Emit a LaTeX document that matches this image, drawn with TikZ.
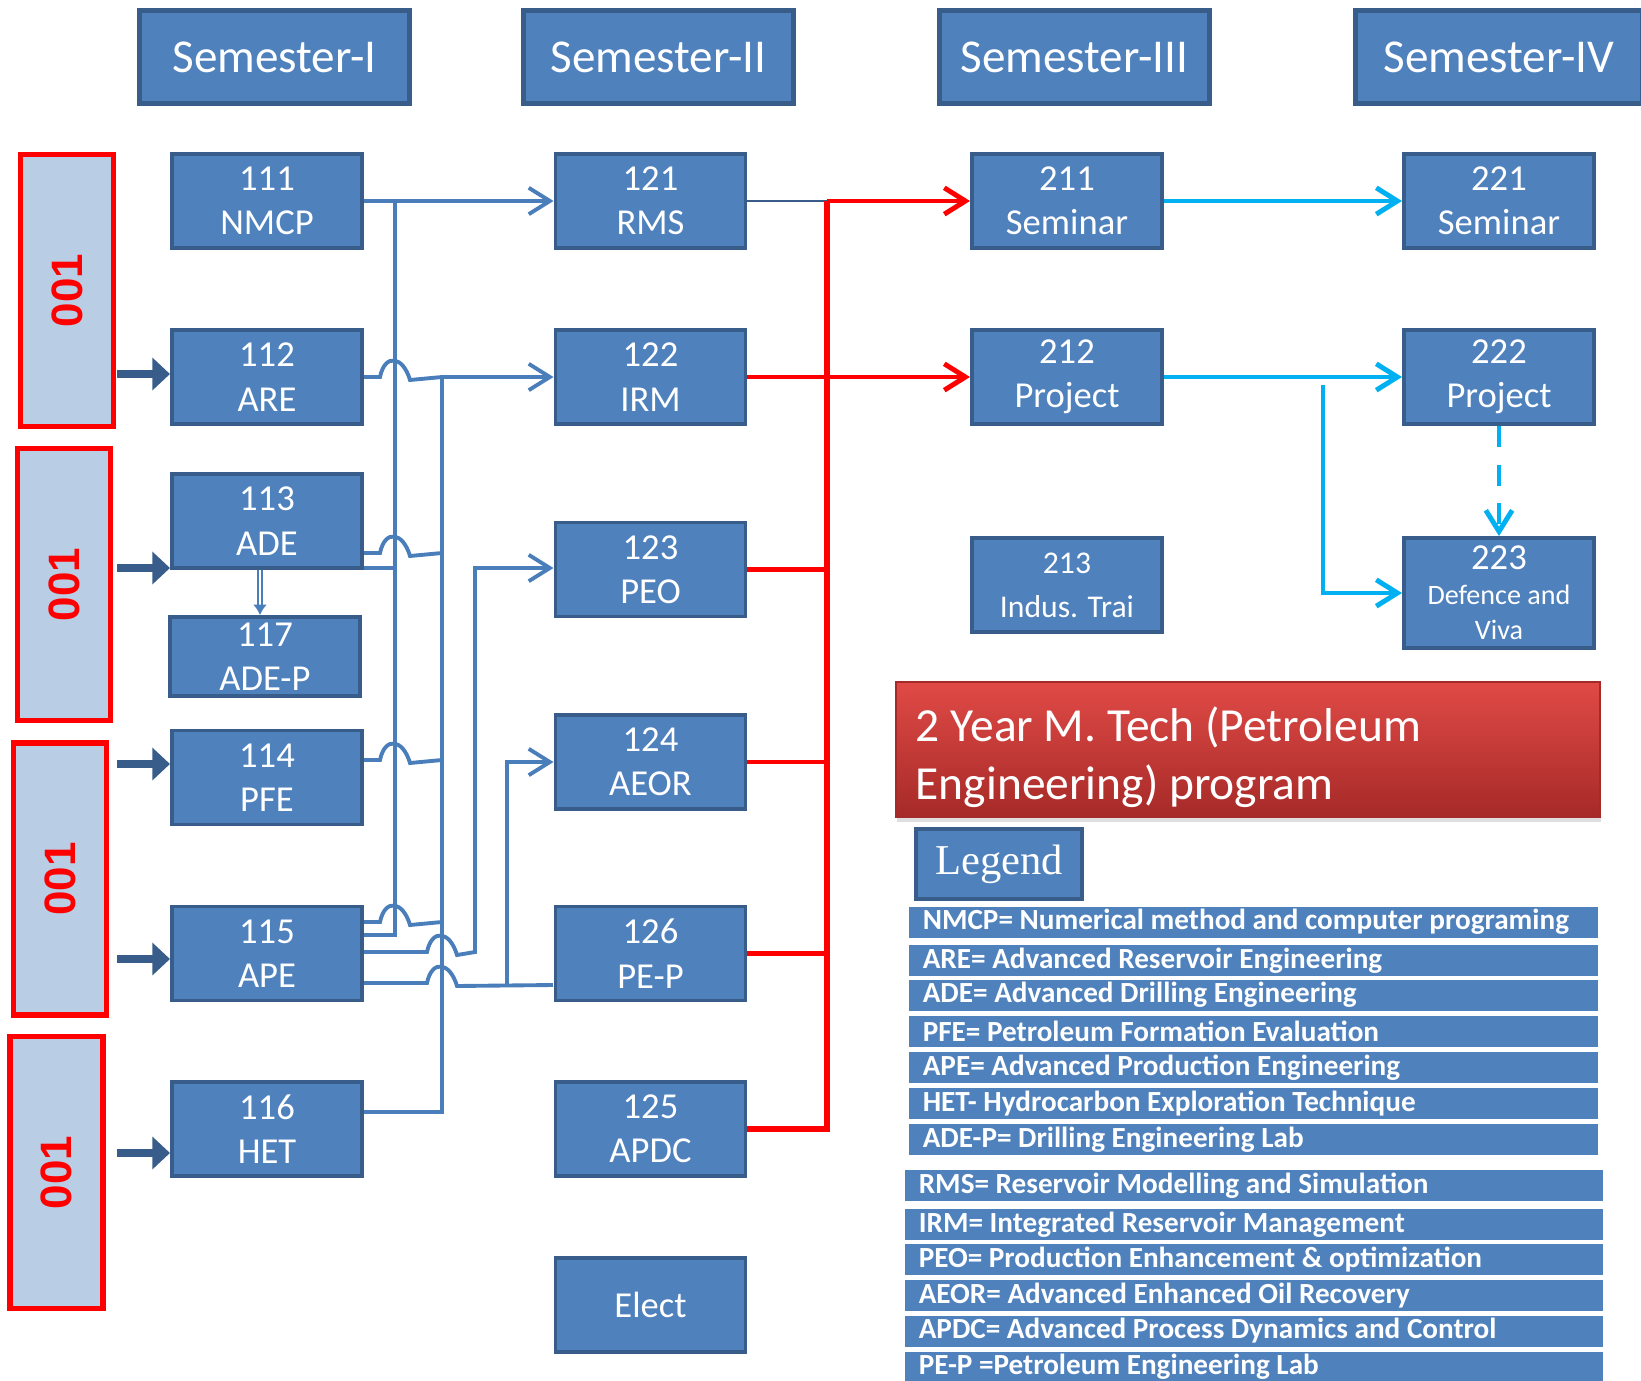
\documentclass[tikz,border=0pt]{standalone}
\usepackage{fontspec}
\setmainfont{Carlito}
\newfontfamily\tagfont{Liberation Sans}
\newfontfamily\legfont{Liberation Serif}
\usetikzlibrary{arrows.meta}
\usetikzlibrary{shadows}
\definecolor{boxblue}{RGB}{79,129,189}
\definecolor{boxedge}{RGB}{56,93,138}
\definecolor{tagfill}{RGB}{185,205,229}
\definecolor{linkblue}{RGB}{74,126,187}
\definecolor{skyline}{RGB}{0,176,240}
\definecolor{titletop}{RGB}{224,74,70}
\definecolor{titlebot}{RGB}{166,42,40}

\begin{document}
\begin{tikzpicture}[x=0.01cm, y=-0.01cm,
    course/.style={draw=boxedge, fill=boxblue, line width=1.1pt, text=white, align=center,
      inner sep=0pt, minimum width=1.9cm, minimum height=0.94cm, font=\fontsize{10.4}{12.6}\selectfont},
    semhead/.style={draw=boxedge, fill=boxblue, line width=1.3pt, text=white, inner sep=0pt,
      minimum width=2.7cm, minimum height=0.93cm, font=\fontsize{13.4}{16}\selectfont},
    tagbox/.style={draw=red, fill=tagfill, line width=1.5pt, inner sep=0pt, rotate=90,
      minimum width=2.72cm, minimum height=0.93cm, text=red, font=\tagfont\bfseries\fontsize{12.5}{14}\selectfont},
    feed/.style={boxedge, line width=2.3pt, -{Triangle[length=5pt,width=9pt]}},
    link/.style={linkblue, line width=1.1pt},
    linkto/.style={link, -{Straight Barb[length=6pt,width=7.5pt]}},
    redlink/.style={red, line width=1.2pt},
    redto/.style={red, line width=1.4pt, -{Straight Barb[length=6pt,width=7.5pt]}},
    skyto/.style={skyline, line width=1.4pt, -{Straight Barb[length=6pt,width=7.5pt]}},
    legrow/.style={fill=boxblue, text=white, inner xsep=0.14cm, inner ysep=0pt, minimum height=0.31cm,
      align=flush left, font=\bfseries\fontsize{8.3}{9}\selectfont},
  ]
    \useasboundingbox (0,0) rectangle (1641,1381);

    % semester headers
    \node [semhead] (sem1) at (274.5,57) {Semester-I};
    \node [semhead] (sem2) at (658.5,57) {Semester-II};
    \node [semhead] (sem3) at (1074.5,57) {Semester-III};
    \node [semhead, minimum width=2.87cm] (sem4) at (1499,57) {Semester-IV};

    % 001 blocks
    \node [tagbox] (tag1) at (67,290.5) {001};
    \node [tagbox] (tag2) at (64,584.5) {001};
    \node [tagbox] (tag3) at (60,879) {001};
    \node [tagbox] (tag4) at (56.5,1172.5) {001};

    % semester I
    \node [course] (n111) at (267,201) {111\\NMCP};
    \node [course] (n112) at (267,377) {112\\ARE};
    \node [course] (n113) at (267,521) {113\\ADE};
    \node [course, minimum height=0.79cm] (n117) at (265,656.5) {117\\ADE-P};
    \node [course] (n114) at (267,777.5) {114\\PFE};
    \node [course] (n115) at (267,953.5) {115\\APE};
    \node [course] (n116) at (267,1129) {116\\HET};

    % semester II
    \node [course] (n121) at (650.5,201) {121\\RMS};
    \node [course] (n122) at (650.5,377) {122\\IRM};
    \node [course] (n123) at (650.5,569.5) {123\\PEO};
    \node [course] (n124) at (650.5,762) {124\\AEOR};
    \node [course] (n126) at (650.5,953.5) {126\\PE-P};
    \node [course] (n125) at (650.5,1129) {125\\APDC};
    \node [course] (elect) at (650.5,1305) {Elect};

    % semester III
    \node [course] (n211) at (1067,201) {211\\Seminar};
    \node [course] (n212) at (1067,377) {212\\Project};
    \node [course, font=\fontsize{9}{12.6}\selectfont] (n213) at (1067,585) {213\\Indus. Trai};

    % semester IV
    \node [course] (n221) at (1499,201) {221\\Seminar};
    \node [course] (n222) at (1499,377) {222\\Project};
    \node [course, minimum height=1.1cm, font=\fontsize{10.4}{10}\selectfont] (n223) at (1499,593)
      {223\\\fontsize{8}{9.4}\selectfont Defence and\\\fontsize{8}{9.4}\selectfont Viva};

    % feeds from the 001 blocks
    \coordinate (f112) at (117,374);
    \coordinate (f113) at (117,568);
    \coordinate (f114) at (117,764);
    \coordinate (f115) at (117,959);
    \coordinate (f116) at (117,1153);
    \draw [feed] (f112) -- (f112 -| n112.west);
    \draw [feed] (f113) -- (f113 -| n113.west);
    \draw [feed] (f114) -- (f114 -| n114.west);
    \draw [feed] (f115) -- (f115 -| n115.west);
    \draw [feed] (f116) -- (f116 -| n116.west);

    \coordinate (adeout) at (260,570);
    \draw [draw=linkblue, line width=0.5pt, double=white, double distance=0.7pt,
      -{Latex[length=3pt,width=4pt]}] (adeout) -- (adeout |- n117.north);

    % blue links semester I -> II
    \coordinate (busA) at (395,201);
    \coordinate (busB) at (442,377);
    \coordinate (busC) at (475,568);
    \coordinate (busD) at (507,762);
    \coordinate (e112) at (364,377);
    \coordinate (e113a) at (364,553);
    \coordinate (e113b) at (364,568);
    \coordinate (e114) at (364,760);
    \coordinate (e115a) at (364,922);
    \coordinate (e115b) at (364,935);
    \coordinate (e115c) at (364,952);
    \coordinate (e115d) at (364,983);
    \coordinate (e116) at (364,1112);
    \coordinate (w126) at (553,985);

    \draw [linkto] (n111.east) -- (n121.west);
    \draw [link] (e115b) -- (e115b -| busA) -- (busA);
    \draw [link] (e113b) -- (e113b -| busA);

    \draw [linkto] (busB) -- (busB -| n122.west);
    \draw [link] (e116) -- (e116 -| busB) -- (busB);
    \draw [link] (e112) -- ++(16,0) .. controls +(5,-24) and +(-7,-24) .. ++(30,3) -- (e112 -| busB);
    \draw [link] (e113a) -- ++(16,0) .. controls +(5,-24) and +(-7,-24) .. ++(30,3) -- (e113a -| busB);
    \draw [link] (e114) -- ++(16,0) .. controls +(5,-24) and +(-7,-24) .. ++(30,3) -- (e114 -| busB);
    \draw [link] (e115a) -- ++(16,0) .. controls +(5,-24) and +(-7,-24) .. ++(30,3) -- (e115a -| busB);

    \draw [linkto] (e115c) -- ++(63,0) .. controls +(5,-24) and +(-7,-24) .. ++(30,3)
      -- (e115c -| busC) -- (busC) -- (busC -| n123.west);
    \draw [link] (e115d) -- ++(63,0) .. controls +(5,-24) and +(-7,-24) .. ++(30,3) -- (w126);
    \draw [linkto] (w126 -| busD) -- (busD) -- (busD -| n124.west);

    % red links semester II -> III
    \coordinate (redtop) at (827,201);
    \draw [boxedge, line width=0.8pt] (n121.east) -- (redtop);
    \draw [redto] (redtop) -- (n211.west);
    \draw [red, line width=1.5pt] (redtop) -- (redtop |- n125.east) -- (n125.east);
    \draw [redto] (n122.east) -- (n212.west);
    \draw [redlink] (n123.east) -- (n123.east -| redtop);
    \draw [redlink] (n124.east) -- (n124.east -| redtop);
    \draw [redlink] (n126.east) -- (n126.east -| redtop);

    % cyan links semester III -> IV
    \coordinate (skyfork) at (1323,385);
    \draw [skyto] (n211.east) -- (n221.west);
    \draw [skyto] (n212.east) -- (n222.west);
    \draw [skyto] (skyfork) -- (skyfork |- n223.west) -- (n223.west);
    \draw [skyto, dash pattern=on 6pt off 5pt] (n222.south) -- (n223.north);

    % title and legend
    \node [top color=titletop, bottom color=titlebot, draw=titlebot, line width=0.5pt,
      drop shadow={shadow xshift=0.3pt, shadow yshift=-1.5pt, opacity=0.25},
      text=white, inner sep=0pt, minimum width=7.04cm, minimum height=1.35cm, text width=6.64cm,
      text height=14pt, align=flush left, font=\fontsize{13.5}{16.5}\selectfont] (title) at (1248,749.5)
      {2 Year M. Tech (Petroleum\\Engineering) program};
    \node [course, minimum width=1.66cm, minimum height=0.70cm, font=\legfont\fontsize{12.1}{14}\selectfont]
      (legend) at (999,864) {Legend};

    \node [legrow, text width=6.61cm] (lgNMCP) at (1253.5,922) {NMCP= Numerical method and computer programing};
    \node [legrow, text width=6.61cm] (lgARE) at (1253.5,960.5) {ARE= Advanced Reservoir Engineering};
    \node [legrow, text width=6.61cm] (lgADE) at (1253.5,995) {ADE= Advanced Drilling Engineering};
    \node [legrow, text width=6.61cm] (lgPFE) at (1253.5,1031) {PFE= Petroleum Formation Evaluation};
    \node [legrow, text width=6.61cm] (lgAPE) at (1253.5,1067.5) {APE= Advanced Production Engineering};
    \node [legrow, text width=6.61cm] (lgHET) at (1253.5,1103.5) {HET- Hydrocarbon Exploration Technique};
    \node [legrow, text width=6.61cm] (lgADEP) at (1253.5,1139.5) {ADE-P= Drilling Engineering Lab};

    \node [legrow, text width=6.70cm] (lgRMS) at (1254,1185.5) {RMS= Reservoir Modelling and Simulation};
    \node [legrow, text width=6.70cm] (lgIRM) at (1254,1224.5) {IRM= Integrated Reservoir Management};
    \node [legrow, text width=6.70cm] (lgPEO) at (1254,1259.5) {PEO= Production Enhancement \& optimization};
    \node [legrow, text width=6.70cm] (lgAEOR) at (1254,1295.5) {AEOR= Advanced Enhanced Oil Recovery};
    \node [legrow, text width=6.70cm] (lgAPDC) at (1254,1331) {APDC= Advanced Process Dynamics and Control};
    \node [legrow, text width=6.70cm] (lgPEP) at (1254,1367) {PE-P =Petroleum Engineering Lab};
  \end{tikzpicture}
\end{document}
